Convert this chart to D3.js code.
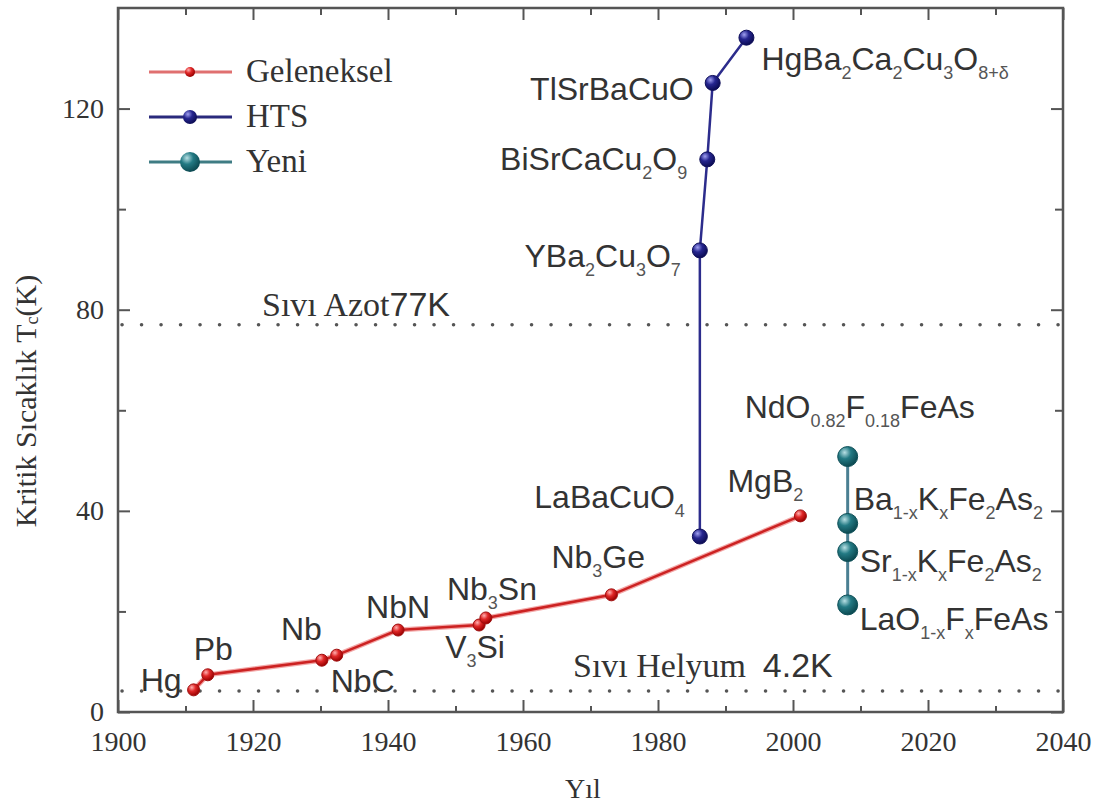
<!DOCTYPE html>
<html>
<head>
<meta charset="utf-8">
<style>
    body { margin: 0; background: #fff; }
    svg text { fill: #333; }
    .serif { font-family: "Liberation Serif", "DejaVu Serif", serif; }
    .sans { font-family: "Liberation Sans", Arial, sans-serif; }
</style>
</head>
<body>
<svg id="chart" width="1102" height="809"></svg>
<script src="https://d3js.org/d3.v7.min.js"></script>
<script>
    // data (year, Tc in K)
    const convYears = [1911.2, 1913.3, 1930.2, 1932.4, 1941.5, 1953.5, 1954.5, 1973.1, 2001.1];
    const convTc = [4.4, 7.4, 10.3, 11.3, 16.3, 17.3, 18.7, 23.3, 39];
    const convNames = ["Hg", "Pb", "Nb", "NbC", "NbN", "V|3|Si", "Nb|3|Sn", "Nb|3|Ge", "MgB|2"];

    const htsYears = [1986.2, 1986.2, 1987.3, 1988.1, 1993.1];
    const htsTc = [34.9, 91.8, 109.9, 125.1, 134.1];
    const htsNames = ["LaBaCuO|4", "YBa|2|Cu|3|O|7", "BiSrCaCu|2|O|9", "TlSrBaCuO", "HgBa|2|Ca|2|Cu|3|O|8+δ"];

    const newYears = [2008.1, 2008.1, 2008.1, 2008.1];
    const newTc = [50.8, 37.5, 31.9, 21.3];
    const newNames = ["NdO|0.82|F|0.18|FeAs", "Ba|1-x|K|x|Fe|2|As|2", "Sr|1-x|K|x|Fe|2|As|2", "LaO|1-x|F|x|FeAs"];

    const seriesNames = ["Geleneksel", "HTS", "Yeni"];
    const xTicks = [1900, 1920, 1940, 1960, 1980, 2000, 2020, 2040];
    const yTicks = [0, 40, 80, 120];
    const refLevels = [77, 4.2];

    // label placement, pixel offsets from each point [dx, dy, anchor]
    const convPos = [[-12, 1, "end"], [-14, -15, "start"], [0, -20, "end"], [-6, 37, "start"], [0, -12, "middle"],
                     [-34, 33, "start"], [-39, -18, "start"], [-60, -27, "start"], [-73, -24, "start"]];
    const htsPos = [[-15, -29, "end"], [-19, 17, "end"], [-20, 11, "end"], [-19, 17, "end"], [15, 32, "start"]];
    const newPos = [[-103, -39, "start"], [6, -13, "start"], [12, 20, "start"], [12, 25, "start"]];

    const svg = d3.select("#chart");
    const x = d3.scaleLinear().domain([1900, 2040]).range([118, 1063]);
    const y = d3.scaleLinear().domain([0, 140]).range([712, 8]);

    // sphere-like gradients for markers
    const defs = svg.append("defs");
    function sphere(id, light, mid, dark) {
        let g = defs.append("radialGradient").attr("id", id)
            .attr("cx", "35%").attr("cy", "30%").attr("r", "70%");
        g.append("stop").attr("offset", "0%").attr("stop-color", light);
        g.append("stop").attr("offset", "45%").attr("stop-color", mid);
        g.append("stop").attr("offset", "100%").attr("stop-color", dark);
    }
    sphere("gRed", "#ffb0b0", "#e02828", "#9a0000");
    sphere("gBlue", "#a0a0f0", "#262690", "#0c0c55");
    sphere("gTeal", "#b8e0e4", "#237a84", "#0c4a52");

    // axes: ticks point inward on all four sides
    let plot = svg.append("g");
    function tickAxis(axisFn, scale, values, size, labels) {
        let a = axisFn(scale).tickValues(values).tickSizeInner(-size).tickSizeOuter(0);
        a.tickFormat(labels ? d3.format("d") : "");
        return a;
    }
    const xMinor = d3.range(1910, 2040, 20);
    const yMinor = d3.range(20, 140, 40);

    plot.append("g").attr("transform", "translate(0,712)")
        .call(tickAxis(d3.axisBottom, x, xTicks, 12, true).tickPadding(19));
    plot.append("g").attr("transform", "translate(0,712)").call(tickAxis(d3.axisBottom, x, xMinor, 6, false));
    plot.append("g").attr("transform", "translate(0,8)").call(tickAxis(d3.axisTop, x, xTicks, 12, false));
    plot.append("g").attr("transform", "translate(0,8)").call(tickAxis(d3.axisTop, x, xMinor, 7, false));
    plot.append("g").attr("transform", "translate(118,0)")
        .call(tickAxis(d3.axisLeft, y, yTicks, 12, true).tickPadding(14));
    plot.append("g").attr("transform", "translate(118,0)").call(tickAxis(d3.axisLeft, y, yMinor, 8, false));
    plot.append("g").attr("transform", "translate(1063,0)").call(tickAxis(d3.axisRight, y, yTicks, 12, false));
    plot.append("g").attr("transform", "translate(1063,0)").call(tickAxis(d3.axisRight, y, yMinor, 8, false));

    plot.selectAll(".domain").remove();
    plot.selectAll(".tick line").attr("stroke", "#555").attr("stroke-width", 2);
    plot.selectAll(".tick text").attr("class", "serif").style("font-size", "28px").attr("fill", "#333");

    svg.append("rect")
        .attr("x", x(1900)).attr("y", y(140))
        .attr("width", x(2040) - x(1900)).attr("height", y(0) - y(140))
        .attr("fill", "none").attr("stroke", "#555").attr("stroke-width", 2.5);

    // dotted reference lines
    svg.selectAll(".ref").data(refLevels).enter().append("line")
        .attr("x1", x(1900) + 4).attr("x2", x(2040) - 2)
        .attr("y1", (d) => y(d)).attr("y2", (d) => y(d))
        .attr("stroke", "#555").attr("stroke-width", 3.5)
        .attr("stroke-linecap", "round").attr("stroke-dasharray", "0.1 19.4");

    let azot = svg.append("text").attr("class", "serif").attr("x", 262).attr("y", 316).style("font-size", "34px");
    azot.append("tspan").text("Sıvı Azot");
    azot.append("tspan").attr("class", "sans").text("77K");
    let hel = svg.append("text").attr("class", "serif").attr("x", 573).attr("y", 677).style("font-size", "34px");
    hel.append("tspan").text("Sıvı Helyum\u00a0\u00a0");
    hel.append("tspan").attr("class", "sans").text("4.2K");

    // series
    const line = d3.line().x((d) => x(d[0])).y((d) => y(d[1]));
    const conv = convYears.map((v, i) => [v, convTc[i]]);
    const hts = htsYears.map((v, i) => [v, htsTc[i]]);
    const yeni = newYears.map((v, i) => [v, newTc[i]]);

    svg.append("path").datum(conv).attr("d", line).attr("fill", "none")
        .attr("stroke", "#f3a8a8").attr("stroke-width", 5);
    svg.append("path").datum(conv).attr("d", line).attr("fill", "none")
        .attr("stroke", "#cc2222").attr("stroke-width", 2.5);
    svg.append("path").datum(hts).attr("d", line).attr("fill", "none")
        .attr("stroke", "#2c2c8c").attr("stroke-width", 2.5);
    svg.append("path").datum(yeni).attr("d", line).attr("fill", "none")
        .attr("stroke", "#4a7f92").attr("stroke-width", 3);

    function dots(data, r, grad, stroke) {
        svg.append("g").selectAll("circle").data(data).enter().append("circle")
            .attr("cx", (d) => x(d[0])).attr("cy", (d) => y(d[1])).attr("r", r)
            .attr("fill", "url(#" + grad + ")").attr("stroke", stroke).attr("stroke-width", 1);
    }
    dots(conv, 6, "gRed", "#a01010");
    dots(hts, 7.5, "gBlue", "#10105a");
    dots(yeni, 10, "gTeal", "#0f5058");

    // chemical formula labels, every second piece is a subscript
    function formula(data, names, pos) {
        data.forEach((d, i) => {
            let t = svg.append("text").attr("class", "sans")
                .attr("x", x(d[0]) + pos[i][0]).attr("y", y(d[1]) + pos[i][1])
                .attr("text-anchor", pos[i][2]).style("font-size", "32px");
            let shift = 0;
            names[i].split("|").forEach((part, j) => {
                if (part === "") return;
                let sub = j % 2 === 1;
                let target = sub ? 9 : 0;
                t.append("tspan").attr("dy", target - shift)
                    .style("font-size", sub ? "18px" : "32px")
                    .attr("fill", sub ? "#555" : "#333")
                    .text(part);
                shift = target;
            });
        });
    }
    formula(conv, convNames, convPos);
    formula(hts, htsNames, htsPos);
    formula(yeni, newNames, newPos);

    // legend
    const legColors = ["#e07070", "#2a2a7c", "#3f7c84"];
    const legGrads = ["gRed", "gBlue", "gTeal"];
    const legR = [5, 7, 10];
    let legend = svg.append("g").selectAll("g").data(seriesNames).enter().append("g")
        .attr("transform", (d, i) => "translate(0," + (72 + i * 45) + ")");
    legend.append("line").attr("x1", 149).attr("x2", 232)
        .attr("stroke", (d, i) => legColors[i]).attr("stroke-width", 3);
    legend.append("circle").attr("cx", 190).attr("r", (d, i) => legR[i])
        .attr("fill", (d, i) => "url(#" + legGrads[i] + ")");
    legend.append("text").attr("class", "serif").attr("x", 246).attr("y", 10)
        .style("font-size", "33px").text((d) => d);

    // axis titles
    svg.append("text").attr("class", "serif").attr("x", 583).attr("y", 798)
        .attr("text-anchor", "middle").style("font-size", "28px").text("Yıl");
    let yt = svg.append("text").attr("class", "serif")
        .attr("transform", "translate(36,401) rotate(-90)")
        .attr("text-anchor", "middle").style("font-size", "30px");
    yt.append("tspan").text("Kritik Sıcaklık T");
    yt.append("tspan").style("font-size", "18px").attr("dy", 2).text("c");
    yt.append("tspan").attr("dy", -2).text("(K)");
</script>
</body>
</html>
